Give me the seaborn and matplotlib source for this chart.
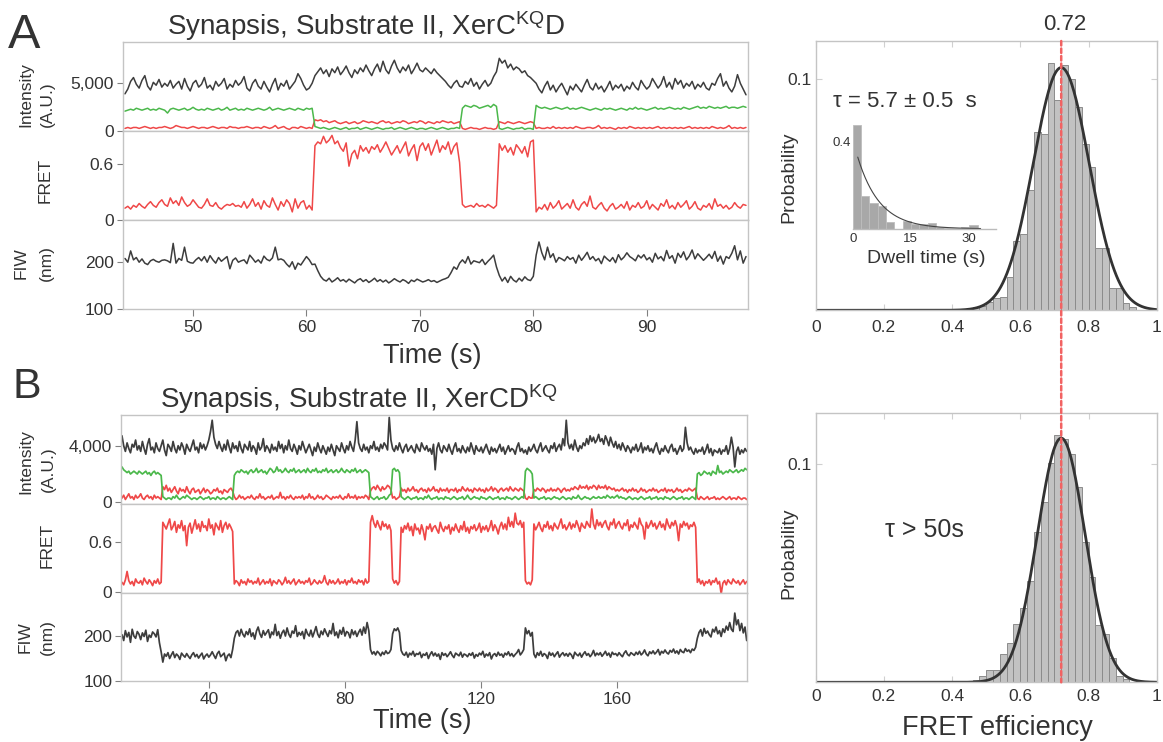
import numpy as np
import pandas as pd
import matplotlib
matplotlib.use("Agg")
import matplotlib.pyplot as plt
import seaborn as sns
from matplotlib.patches import ConnectionPatch

# ---------------- DATA ----------------
# Panel A traces: sampled every 0.25 s starting at 44.0 s
tA_start, tA_step = 44.0, 0.25
# total intensity (hundreds of A.U.)
gray_A = [39,44,52,56,49,45,53,58,47,43, 51,48,54,46,50,47,53,45,49,52,
          44,55,47,42,50,53,46,49,56,45, 48,43,52,47,50,55,44,49,46,53,
          48,51,57,45,42,50,54,47,44,52, 46,41,49,55,43,50,47,53,44,48,
          52,60,55,48,43,45,50,
          58,62,66,60,64,57,65,61,67,59, 63,68,61,56,64,60,66,62,69,63,
          58,65,70,62,73,64,60,68,74,66, 61,67,63,69,60,65,71,64,62,66,
          63,60,65,61,58,55,52,48,45,50, 53,47,
          46,52,49,55,47,51,44,49,53,47,50,57,62,
          76,71,74,66,70,64,67,65,61,63,58,56,53,
          50,44,40,47,52,43,48,41,46,50, 44,38,47,43,49,45,41,48,54,46,
          43,50,44,47,41,46,52,43,48,45, 49,42,47,44,51,46,43,53,48,44,
          47,55,50,45,49,57,46,51,44,55, 49,53,45,50,47,52,44,49,46,51,
          45,43,50,48,55,60,47,52,45,41, 47,59,50,44,38]
# donor (green) intensity (hundreds)
green_A = [21,22,23,22,24,23,22,23,24,22, 23,22,24,23,22,19,23,24,23,22,
           23,24,22,23,25,23,22,23,22,24, 23,22,23,24,22,23,25,22,23,24,
           22,23,22,24,23,22,23,24,23,22, 23,25,22,23,24,23,22,23,24,23,
           22,24,23,22,24,23,24,
           5,4,3,4,3,2,3,4,3,2, 3,4,2,3,3,4,2,3,4,3, 2,3,4,3,2,3,3,4,2,3,
           4,3,2,3,4,3,2,3,3,2, 3,4,3,2,3,4,3,2,3,3, 4,3,
           24,27,26,25,27,26,24,25,26,27,25,28,26,
           3,2,3,4,3,2,3,3,4,2,3,3,2,
           27,25,24,25,24,23,24,25,24,23, 24,25,23,24,23,24,25,24,23,22,
           23,24,23,22,24,23,24,23,22,23, 24,23,22,24,23,25,23,24,23,22,
           23,24,25,23,24,23,24,25,24,23, 24,23,25,24,23,24,25,26,24,25,
           24,26,25,24,25,24,25,26,24,25, 25,24,25,26,25]
# acceptor (red) intensity (hundreds)
red_A = [3,4,3,4,4,3,4,5,4,3, 4,3,4,4,5,4,3,4,6,5, 4,4,3,4,5,4,3,4,4,3,
         4,5,4,3,4,4,3,5,4,4, 3,4,4,5,4,3,4,4,3,5, 4,3,4,6,3,4,5,3,2,4,
         4,3,5,4,3,4,3,
         12,11,12,10,11,9,10,11,9,8, 9,10,8,9,10,8,9,11,10,9, 10,9,8,10,11,9,10,8,9,10,
         9,11,10,8,9,10,9,11,10,8, 10,9,8,10,9,11,10,9,10,8, 9,10,
         3,2,3,4,3,3,2,3,4,3,3,2,3,
         10,9,8,10,9,8,9,10,9,8,9,10,9,
         3,4,3,3,4,3,5,3,4,3, 4,3,4,3,5,4,3,3,4,4, 3,4,6,3,4,3,4,3,2,4,
         3,4,3,5,4,3,4,3,4,3, 4,3,4,5,3,4,3,4,3,4, 3,4,3,4,5,3,4,3,4,3,
         4,3,5,4,3,4,3,4,6,3, 4,3,4,3,4]
# FRET efficiency (hundredths)
fret_A = [13,15,12,16,14,18,15,13,17,20, 16,14,19,22,17,15,24,18,21,16,
          25,19,15,17,22,18,14,13,17,23, 16,15,19,14,12,15,17,16,18,15,
          16,14,20,13,17,23,15,19,12,21, 16,14,24,17,11,20,15,22,18,9,
          23,13,19,21,12,16,11,
          80,84,82,90,83,86,91,82,85,78, 74,83,58,71,75,66,80,74,78,72,
          79,76,81,73,78,84,77,70,75,80, 72,78,84,69,76,81,64,79,83,75,
          82,70,78,86,73,80,76,84,71,79, 83,62,
          17,14,15,16,14,18,15,16,14,17,15,13,16,
          82,75,80,73,78,70,81,77,72,79,68,84,86,
          9,14,12,17,11,19,13,16,21,12, 15,18,13,22,14,11,17,20,15,26,
          14,12,16,19,13,10,15,18,12,14, 17,13,20,11,16,14,19,13,15,21,
          12,17,14,11,18,15,22,13,16,12, 19,14,17,21,12,15,20,13,11,16,
          14,18,12,23,15,17,13,16,12,14, 19,15,13,17,16]
# FIW (nm)
fiw_A = [208,200,224,205,210,200,207,198,195,203, 206,202,200,204,205,203,199,240,198,208,
         204,232,202,199,198,205,210,203,212,200, 214,205,198,210,202,207,212,186,204,209,
         200,203,205,197,215,208,200,205,198,213, 206,203,209,232,205,207,204,196,190,201,
         185,198,194,203,212,205,195,
         196,182,170,163,160,166,158,162,167,160, 163,158,164,160,156,162,165,159,163,157,
         161,166,159,163,158,162,156,160,165,161, 158,163,160,155,162,159,164,161,158,160,
         163,159,161,157,160,163,165,168,178,190, 185,198,
         205,198,212,196,203,201,199,206,195,202,208,215,190,
         172,160,168,157,170,162,158,166,160,169,163,161,170,
         215,243,220,205,232,210,218,200,210,207, 203,212,206,210,198,215,204,212,221,206,
         212,203,208,197,213,207,202,210,199,216, 205,211,220,212,208,203,215,209,216,205,
         210,200,219,207,212,203,225,208,214,198, 219,210,222,205,213,226,207,218,211,204,
         210,217,208,223,202,213,196,212,208,219, 235,205,224,198,212]

# Panel B traces: sampled every 0.5 s starting at 14.5 s
tB_start, tB_step = 14.5, 0.5
gray_B = [47,40,36,42,38,35,41,39,44,37, 40,36,43,38,34,41,45,37,39,35,
          42,38,36,40,44,37,33,41,39,36, 43,38,35,40,37,42,39,34,41,38,
          36,40,44,37,39,35,42,38,41,37, 40,44,50,58,46,41,38,43,39,36,
          41,37,44,39,35,42,38,40,36,43, 38,35,41,39,37,43,36,40,38,34,
          42,37,39,45,36,40,38,35,41,37, 39,36,43,38,41,35,40,37,44,38,
          36,41,38,34,40,37,43,39,35,38, 41,37,33,39,36,42,38,35,40,37,
          34,39,36,41,37,33,40,38,36,42, 38,35,40,37,43,39,36,44,57,42,
          38,36,41,37,39,35,40,38,43,37, 39,36,41,38,42,40,37,60,44,38,
          36,40,37,42,38,35,39,41,36,38, 40,37,35,41,38,36,42,39,37,40,
          36,38,34,41,23,38,42,37,35,40, 38,36,41,37,34,39,42,36,38,35,
          40,37,35,39,36,42,38,34,40,37, 36,39,35,38,41,37,34,39,36,38,
          35,38,41,36,39,34,37,40,36,38, 37,34,39,42,36,38,35,37,34,39,
          36,38,41,37,35,39,42,36,38,40, 37,35,40,38,42,36,39,41,37,45,
          40,58,42,38,41,37,44,39,36,40, 38,42,40,45,41,47,43,46,42,44,
          48,43,45,41,47,44,40,46,42,39, 43,38,41,37,42,39,36,40,38,35,
          39,37,41,36,38,42,35,39,37,40, 36,38,35,39,42,37,34,38,36,40,
          37,35,39,41,36,38,34,37,40,36, 38,53,42,37,39,36,34,38,35,37,
          36,39,34,37,41,35,38,33,37,36, 35,38,34,37,36,40,34,38,46,39,
          25,36,39,34,37,35,38,36]
green_B = [25,23,22,21,22,20,21,22,21,20, 22,21,20,21,22,20,21,19,21,22, 20,21,20,19,
           4,3,2,3,3,2,4,3,5,3, 2,3,4,3,5,4,3,2,3,3, 2,3,4,3,2,3,3,4,2,3,
           3,2,4,3,2,3,3,2,3,4, 3,2,
           19,21,22,21,23,22,21,22,20,22, 23,21,22,24,21,22,23,21,22,20,
           22,24,23,21,22,25,22,23,21,22, 24,22,21,23,22,24,21,22,23,21,
           22,23,21,24,22,21,23,22,24,21, 22,21,23,22,24,21,22,23,21,22,
           23,21,22,24,22,21,23,22,21,23, 22,24,21,22,23,21,22,23,22,21,
           4,3,2,3,4,2,3,3,4,2,3,5,6,
           23,24,22,23,21,
           4,3,2,3,4,3,2,3,3,4, 2,3,3,2,4,3,5,3,2,3, 3,4,2,3,3,2,4,3,3,2,
           3,4,3,2,3,3,4,2,3,5, 3,2,3,4,3,3,2,4,3,3, 2,3,4,3,2,3,3,4,2,3,
           3,2,4,3,3,2,3,4,3,2, 3,4,3,
           22,24,23,22,20,
           3,4,3,2,3,3,4,2,3,3, 2,3,4,3,3,2,3,4,3,2, 3,3,2,4,3,3,5,3,2,3,
           4,3,3,2,3,4,3,3,4,3, 3,4,3,5,4,3,4,3,4,5, 3,4,3,3,2,3,4,3,2,3,
           3,2,3,4,3,2,3,3,4,2, 3,3,4,2,3,3,2,4,3,3, 2,3,4,3,2,3,3,4,2,3,
           3,2,3,4,3,2,
           20,21,19,20,22,21,20,21,19,22, 21,20,26,21,22,20,21,22,21,23,
           22,21,22,23,21,22,23,22,24,23]
red_B = [3,5,2,4,6,3,4,2,5,3, 4,6,3,2,4,5,3,4,2,5, 3,4,3,2,
         11,9,12,8,10,7,9,11,8,6, 10,8,9,7,11,8,6,9,10,7, 8,9,6,8,10,7,9,8,6,7,
         9,8,10,7,8,6,9,8,7,9, 10,8,
         4,2,3,5,3,4,2,3,4,3, 5,3,2,4,3,6,3,4,2,3, 4,3,5,2,3,4,3,7,3,4,
         2,4,3,5,3,2,4,3,4,3, 5,2,4,3,6,3,4,2,3,5, 3,4,2,3,5,4,3,2,4,3,
         4,3,5,3,2,4,3,6,3,4, 3,5,2,4,3,4,3,5,4,2,
         8,10,11,9,12,10,8,11,9,10,12,11,9,
         3,4,2,3,4,
         10,8,9,7,10,8,9,11,8,9, 7,9,10,8,9,7,10,8,9,11, 8,9,7,10,8,9,8,10,7,9,
         9,8,10,7,9,8,11,9,8,10, 8,9,7,10,9,8,10,8,9,7, 10,8,9,11,8,10,9,7,9,10,
         8,9,10,8,11,9,8,10,9,8, 10,9,8,
         3,2,4,3,3,
         9,8,10,9,8,10,9,7,9,8, 10,8,9,8,10,9,7,9,10,8, 9,8,10,9,11,10,9,12,10,11,
         10,12,9,11,10,12,11,9,12,10, 11,10,12,9,11,10,9,10,8,9, 8,9,10,8,9,7,9,8,10,8,
         9,7,8,10,8,9,7,8,9,8, 10,8,9,7,8,9,8,10,7,9, 8,9,7,8,10,8,9,7,8,9,
         8,10,9,8,9,10,
         3,2,4,3,2,3,4,2,3,3, 4,2,3,2,3,4,3,2,3,4, 2,3,3,2,4,3,2,3,3,2]
fret_B = [12,9,15,25,14,10,13,8,16,12, 11,14,9,17,13,10,15,12,8,14, 11,16,10,12,
          84,80,76,82,88,75,79,85,72,81, 77,86,74,80,56,78,83,71,79,87,
          76,82,73,85,78,80,74,88,77,81, 69,83,79,75,86,72,80,84,76,82, 78,73,
          10,14,12,8,15,11,13,9,16,12, 14,10,13,11,17,9,12,15,10,13,
          11,16,8,14,12,10,15,13,9,12, 18,11,14,10,13,16,9,12,15,11,
          13,10,14,12,17,9,11,15,12,10, 14,11,13,20,12,9,15,11,14,10,
          12,16,10,13,11,15,9,14,12,17, 11,13,10,15,12,14,9,16,11,13,
          84,92,83,78,86,80,75,85,79,82,76,81,74,
          16,11,14,9,13,
          78,72,80,76,83,74,79,68,82,75, 77,70,81,74,63,79,76,82,73,78,
          80,75,71,84,77,73,79,76,81,70, 78,74,82,76,72,80,75,85,73,78,
          71,79,76,81,74,77,83,72,79,75, 80,73,78,86,74,81,77,70,79,84,
          76,82,75,90,79,85,78,95,83,81, 86,78,84,
          14,10,12,9,15,
          82,75,79,84,77,73,81,78,85,76, 80,74,83,79,76,82,88,77,81,75,
          79,84,76,82,78,86,80,73,83,79, 77,85,81,78,100,82,76,87,80,84,
          78,83,86,79,75,84,81,88,77,82, 85,79,76,83,80,87,74,81,78,84,
          80,76,89,82,79,64,84,77,81,86, 79,83,76,80,85,78,82,75,88,81,
          77,84,80,86,79,62,82,78,85,80, 83,76,81,79,84,78,
          12,16,10,14,8,13,11,15,9,14, 12,17,10,13,-2,11,14,9,15,12,
          10,16,13,11,14,9,12,15,10,13]
fiw_B = [203,190,212,198,208,186,215,200,195,210, 204,192,207,199,213,188,202,197,209,205,
         198,214,185,165,
         142,160,155,163,150,158,165,152,160,156, 148,162,157,153,161,155,150,158,163,154,
         159,151,157,162,149,156,160,153,158,165, 157,150,161,166,154,158,162,145,156,160,
         152,170,
         195,208,212,200,215,204,198,210,203,216, 199,207,193,211,220,205,197,212,202,208,
         214,196,209,203,226,201,210,195,207,213, 200,218,204,197,211,206,223,199,208,202,
         210,194,215,205,200,213,198,209,221,204, 197,211,203,216,207,199,212,205,228,201,
         209,196,213,204,219,200,210,207,196,214, 203,211,199,208,215,202,220,206,230,212,
         170,160,165,158,166,162,156,164,159,167,161,163,170,
         205,216,212,218,208,
         168,160,157,164,153,162,158,166,155,161, 159,164,152,160,157,163,150,159,165,156,
         162,155,160,148,163,157,161,154,159,165, 157,152,162,159,156,164,153,160,158,154,
         161,157,163,151,159,155,162,158,166,153, 160,156,163,149,158,161,155,164,157,160,
         153,162,158,165,156,161,154,159,163,170, 158,163,170,
         218,205,212,200,208,
         160,152,163,157,166,155,161,158,150,164, 157,162,154,160,165,153,159,163,156,161,
         155,162,158,150,164,159,156,162,153,160, 165,157,161,154,159,168,156,162,158,163,
         155,160,166,157,162,153,164,159,161,156, 163,158,154,162,167,159,156,163,160,157,
         164,159,166,158,162,169,160,156,165,161, 167,160,164,170,158,166,162,169,163,160,
         168,164,171,162,167,160,170,165,163,172, 166,169,163,171,168,175,
         195,208,214,200,217,206,211,203,198,215, 209,220,205,212,199,216,208,222,213,230,
         215,210,251,225,236,212,228,207,220,190]

# FRET histograms (bin width 0.02)
hist_bin = 0.02
histA_start = 0.46
histA_prob = [0.0014,0.0020,0.0035,0.0053,0.0058,0.0144,0.0300,0.0330,0.0520,0.0770,
              0.0760,0.1070,0.0910,0.1060,0.1000,0.0880,0.0720,0.0620,0.0270,0.0270,
              0.0095,0.0095,0.0030,0.0015]
histB_start = 0.44
histB_prob = [0.0006,0.0010,0.0030,0.0057,0.0057,0.0128,0.0179,0.0266,0.0343,0.0465,
              0.0688,0.0826,0.1005,0.1135,0.1116,0.1046,0.0898,0.0645,0.0485,0.0263,
              0.0220,0.0110,0.0030,0.0015]
# Gaussian fits (center, sigma, amplitude)
fitA = (0.72, 0.082, 0.1049)
fitB = (0.72, 0.070, 0.112)
# dwell-time inset (bin width 2.15 s)
dwell_bin = 2.15
dwell_prob = [0.48,0.150,0.117,0.105,0.031,0.0,0.035,0.023,0.020,0.028,0.008,0.003,0.003,0.008,0.018]
dwell_tau, dwell_amp, dwell_tmin, dwell_tmax = 5.7, 0.415, 1.3, 33.0

hist_xticks = [0, 0.2, 0.4, 0.6, 0.8, 1.0]
hist_xticklabels = ["0", "0.2", "0.4", "0.6", "0.8", "1"]
tA_ticks = [50, 60, 70, 80, 90]
tB_ticks = [40, 80, 120, 160]

# ---------------- STYLE ----------------
sns.set_theme(style="white")
plt.rcParams['font.family'] = ['Liberation Sans', 'DejaVu Sans']
plt.rcParams['mathtext.fontset'] = 'custom'
plt.rcParams['mathtext.rm'] = 'Liberation Sans'
plt.rcParams['mathtext.it'] = 'Liberation Sans:italic'
plt.rcParams['mathtext.bf'] = 'Liberation Sans:bold'

TXT = '#333333'
SPINE = '#c4c4c4'
TICK = '#808080'
C_GRAY = '#3d3d3d'
C_GREEN = '#4bb84b'
C_RED = '#ef4848'

W, H = 1163, 742
fig = plt.figure(figsize=(W / 100, H / 100), dpi=100, facecolor='white')


def add_ax(x0, y0, x1, y1):
    return fig.add_axes([x0 / W, 1 - y1 / H, (x1 - x0) / W, (y1 - y0) / H])


def ftext(x, y, s, **kw):
    kw.setdefault('color', TXT)
    fig.text(x / W, 1 - y / H, s, **kw)


def trace(ax, t, v, color, lw):
    sns.lineplot(x=t, y=v, ax=ax, color=color, lw=lw, sort=False,
                 estimator=None, errorbar=None)


def style_trace(ax, xlim, ylim, yticks, yticklabels, xticks=None):
    ax.set_xlim(*xlim)
    ax.set_ylim(*ylim)
    ax.set_yticks(yticks)
    ax.set_yticklabels(yticklabels)
    ax.set_xlabel('')
    ax.set_ylabel('')
    ax.set_facecolor('white')
    for s in ax.spines.values():
        s.set_color(SPINE)
        s.set_linewidth(1.0)
    ax.tick_params(axis='y', left=True, direction='out', length=4.5, width=0.8,
                   color=TICK, labelsize=12.5, labelcolor=TXT, pad=2)
    if xticks is None:
        ax.tick_params(axis='x', bottom=False, labelbottom=False)
    else:
        ax.set_xticks(xticks)
        ax.set_xticklabels([str(v) for v in xticks])
        ax.tick_params(axis='x', bottom=True, direction='out', length=5, width=0.8,
                       color=TICK, labelsize=12.5, labelcolor=TXT, pad=3)


# ---------------- PANEL A TRACES ----------------
tA = tA_start + tA_step * np.arange(len(fret_A))
xlimA = (43.8, 98.9)
axAi = add_ax(122.7, 42, 747.7, 131.3)
trace(axAi, tA, np.array(red_A) * 100, C_RED, 1.1)
trace(axAi, tA, np.array(green_A) * 100, C_GREEN, 1.1)
trace(axAi, tA, np.array(gray_A) * 100, C_GRAY, 1.1)
style_trace(axAi, xlimA, (0, 9300), [0, 5000], ['0', '5,000'])

axAf = add_ax(122.7, 131.3, 747.7, 220.3)
trace(axAf, tA, np.array(fret_A) / 100, C_RED, 1.1)
style_trace(axAf, xlimA, (0, 0.954), [0, 0.6], ['0', '0.6'])

axAw = add_ax(122.7, 220.3, 747.7, 309.3)
trace(axAw, tA, np.array(fiw_A), C_GRAY, 1.1)
style_trace(axAw, xlimA, (100, 289), [100, 200], ['100', '200'], xticks=tA_ticks)

# ---------------- PANEL B TRACES ----------------
tB = tB_start + tB_step * np.arange(len(fret_B))
xlimB = (14.3, 198.0)
axBi = add_ax(121.3, 415.3, 746.7, 504)
trace(axBi, tB, np.array(red_B) * 100, C_RED, 1.25)
trace(axBi, tB, np.array(green_B) * 100, C_GREEN, 1.25)
trace(axBi, tB, np.array(gray_B) * 100, C_GRAY, 1.25)
style_trace(axBi, xlimB, (-120, 6150), [0, 4000], ['0', '4,000'])

axBf = add_ax(121.3, 504, 746.7, 593.3)
trace(axBf, tB, np.array(fret_B) / 100, C_RED, 1.25)
style_trace(axBf, xlimB, (-0.012, 1.06), [0, 0.6], ['0', '0.6'])

axBw = add_ax(121.3, 593.3, 746.7, 681)
trace(axBw, tB, np.array(fiw_B), C_GRAY, 1.25)
style_trace(axBw, xlimB, (100, 295), [100, 200], ['100', '200'], xticks=tB_ticks)


# ---------------- HISTOGRAMS ----------------
def weighted_hist(ax, edges, probs, color, edgecolor, lw):
    edges = np.asarray(edges, dtype=float)
    centers = edges[:-1] + np.diff(edges) / 2
    df = pd.DataFrame({'x': centers, 'w': np.asarray(probs, dtype=float)})
    sns.histplot(data=df, x='x', weights='w', bins=edges.tolist(), ax=ax, stat='count',
                 color=color, edgecolor=edgecolor, linewidth=lw, alpha=1.0)


def fret_hist(ax, start, probs, fit, ylim, pad):
    edges = start + hist_bin * np.arange(len(probs) + 1)
    weighted_hist(ax, edges, probs, '#c2c2c2', '#8c8c8c', 0.7)
    mu, sig, amp = fit
    xs = np.linspace(0, 1, 500)
    sns.lineplot(x=xs, y=amp * np.exp(-(xs - mu) ** 2 / (2 * sig ** 2)), ax=ax,
                 color='#333333', lw=2.0, sort=False, estimator=None, errorbar=None)
    ax.set_xlim(0, 1)
    ax.set_ylim(*ylim)
    ax.set_xticks(hist_xticks)
    ax.set_xticklabels(hist_xticklabels)
    ax.set_yticks([0.1])
    ax.set_yticklabels(['0.1'])
    ax.set_xlabel('')
    ax.set_ylabel('')
    for s in ax.spines.values():
        s.set_color(SPINE)
        s.set_linewidth(1.0)
    ax.tick_params(axis='both', direction='in', length=4, width=0.8, color='#d0d0d0',
                   bottom=True, top=True, left=True, right=True, labelsize=12.5,
                   labelcolor=TXT)
    ax.tick_params(axis='x', pad=pad)
    ax.tick_params(axis='y', pad=3)


axHA = add_ax(815.7, 41, 1156.7, 310.3)
fret_hist(axHA, histA_start, histA_prob, fitA, (0, 0.1164), 7)
axHB = add_ax(815.7, 413.3, 1156.7, 682.3)
fret_hist(axHB, histB_start, histB_prob, fitB, (0, 0.1234), 5)

# dwell-time inset
axIn = add_ax(852.7, 120.3, 995.7, 228.8)
d_edges = dwell_bin * np.arange(len(dwell_prob) + 1)
weighted_hist(axIn, d_edges, dwell_prob, '#a8a8a8', '#bdbdbd', 0.6)
td = np.linspace(dwell_tmin, dwell_tmax, 200)
sns.lineplot(x=td, y=dwell_amp * np.exp(-td / dwell_tau), ax=axIn, color='#444444',
             lw=0.8, sort=False, estimator=None, errorbar=None)
axIn.set_xlim(0, 36.9)
axIn.set_ylim(0, 0.5)
axIn.patch.set_alpha(0)
for side in ['left', 'top', 'right']:
    axIn.spines[side].set_visible(False)
axIn.spines['bottom'].set_color('#bbbbbb')
axIn.spines['bottom'].set_linewidth(1.0)
axIn.set_xticks([0, 15, 30])
axIn.set_xticklabels(['0', '15', '30'])
axIn.set_yticks([0.4])
axIn.set_yticklabels(['0.4'])
axIn.set_xlabel('')
axIn.set_ylabel('')
axIn.tick_params(axis='both', length=0, labelsize=9.5, labelcolor=TXT)
axIn.tick_params(axis='x', pad=3)
axIn.tick_params(axis='y', pad=1)

# red dotted line through both histograms at the peak position
con = ConnectionPatch(xyA=(fitA[0], axHA.get_ylim()[1]), coordsA=axHA.transData,
                      xyB=(fitB[0], 0), coordsB=axHB.transData,
                      color='#f26262', lw=1.8, linestyle=(0, (1.8, 1.2)), zorder=10)
fig.add_artist(con)

# ---------------- TEXT ----------------
ftext(8, 48.3, 'A', fontsize=35, va='baseline', ha='left')
ftext(12, 398.3, 'B', fontsize=31, va='baseline', ha='left')
ftext(167, 35, r'Synapsis, Substrate II, XerC$^{\mathrm{KQ}}$D', fontsize=20,
      va='baseline', ha='left')
ftext(160, 408.3, r'Synapsis, Substrate II, XerCD$^{\mathrm{KQ}}$', fontsize=20,
      va='baseline', ha='left')
ftext(432, 363.3, 'Time (s)', fontsize=19.5, va='baseline', ha='center')
ftext(422, 728.3, 'Time (s)', fontsize=19.5, va='baseline', ha='center')

lab = dict(fontsize=12.5, rotation=90, va='center', ha='center')
ftext(26, 95, 'Intensity', **lab)
ftext(47, 104, '(A.U.)', **lab)
ftext(45, 180, 'FRET', **lab)
ftext(21, 263, 'FIW', **lab)
ftext(46, 263, '(nm)', **lab)
ftext(26, 462, 'Intensity', **lab)
ftext(48, 469, '(A.U.)', **lab)
ftext(47, 545, 'FRET', **lab)
ftext(25, 637, 'FIW', **lab)
ftext(47, 637, '(nm)', **lab)

ftext(1065, 30, '0.72', fontsize=16, va='baseline', ha='center')
ftext(833, 106.7, 'τ = 5.7 ± 0.5  s', fontsize=16, va='baseline', ha='left')
ftext(926, 263, 'Dwell time (s)', fontsize=14, va='baseline', ha='center')
ftext(885, 536.7, 'τ > 50s', fontsize=18, va='baseline', ha='left')
ftext(997.5, 735, 'FRET efficiency', fontsize=19.5, va='baseline', ha='center')
ftext(789, 177, 'Probability', fontsize=14, rotation=90, va='center', ha='center')
ftext(789, 553, 'Probability', fontsize=14, rotation=90, va='center', ha='center')

fig.savefig('out.png', dpi=100, facecolor='white')
